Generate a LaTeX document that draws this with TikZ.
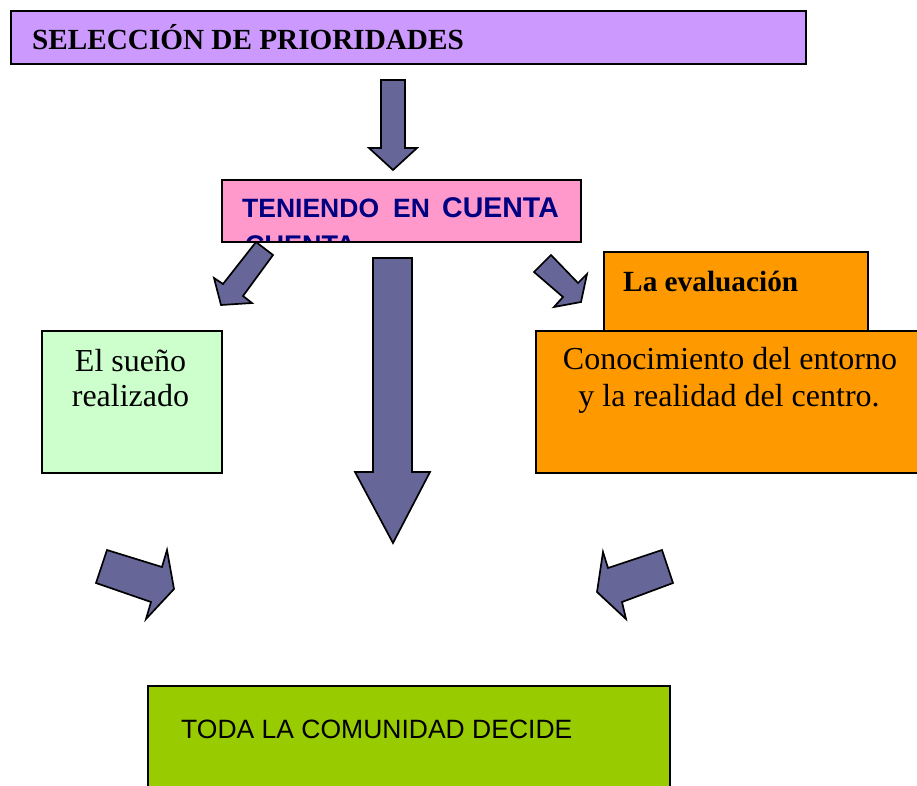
\documentclass[tikz,border=0pt]{standalone}
\usepackage{fontspec}
\setmainfont{Liberation Serif}
\newfontfamily\arialf{Liberation Sans}
\definecolor{purpc}{HTML}{CC99FF}
\definecolor{pinkc}{HTML}{FF99CC}
\definecolor{lgreenc}{HTML}{CCFFCC}
\definecolor{orangec}{HTML}{FF9900}
\definecolor{dgreenc}{HTML}{99CC00}
\definecolor{arrowc}{HTML}{666699}
\definecolor{navyc}{HTML}{000080}
\begin{document}
\begin{tikzpicture}[x=1pt,y=-1pt,
  box/.style={draw=black, line width=1.7pt, inner sep=0pt, anchor=north west},
  blockarrow/.style={draw=black, line width=1.7pt, fill=arrowc, line join=miter},
  lbl/.style={inner sep=0pt, anchor=base west},
  clbl/.style={inner sep=0pt, anchor=base}]
\useasboundingbox (0,0) rectangle (917,785);
\clip (0,0) rectangle (917,785);
% boxes
\node[box, fill=purpc, minimum width=795pt, minimum height=53pt] (sel) at (10,10) {};
\node[lbl, font=\bfseries\fontsize{29.2}{35}\selectfont] (selt) at (32,49) {SELECCIÓN DE PRIORIDADES};

\node[box, fill=pinkc, minimum width=359pt, minimum height=62pt] (ten) at (221,179) {};
\begin{scope}
  \clip (222,180) rectangle (579,240);
  \node[lbl, text=navyc, font=\arialf\bfseries\fontsize{27}{31}\selectfont] (ten4) at (245,254) {CUENTA};
\end{scope}
\node[lbl, text=navyc, font=\arialf\bfseries\fontsize{26.5}{31}\selectfont] (ten1) at (242,217) {TENIENDO};
\node[lbl, text=navyc, font=\arialf\bfseries\fontsize{26.5}{31}\selectfont] (ten2) at (393,217) {EN};
\node[lbl, text=navyc, font=\arialf\bfseries\fontsize{28.5}{31}\selectfont] (ten3) at (442,217) {CUENTA};

\node[box, fill=lgreenc, minimum width=180pt, minimum height=142pt] (sue) at (41,330) {};
\node[clbl, font=\fontsize{32}{36}\selectfont] (sue1) at (130.5,371.5) {El sueño};
\node[clbl, font=\fontsize{32}{36}\selectfont] (sue2) at (130.5,406.5) {realizado};

\node[box, fill=orangec, minimum width=264pt, minimum height=79pt] (eva) at (603,251) {};
\node[lbl, font=\bfseries\fontsize{29.3}{35}\selectfont] (evat) at (623,291) {La evaluación};

\node[box, fill=orangec, minimum width=385pt, minimum height=142pt] (con) at (535,330) {};
\node[clbl, font=\fontsize{32}{36}\selectfont] (con1) at (730,369) {Conocimiento del entorno};
\node[clbl, font=\fontsize{32}{36}\selectfont] (con2) at (729,406) {y la realidad del centro.};

\node[box, fill=dgreenc, minimum width=522pt, minimum height=130pt] (tod) at (147,685) {};
\node[lbl, font=\arialf\fontsize{26.5}{31}\selectfont] (todt) at (181,738) {TODA LA COMUNIDAD DECIDE};

% block arrows
\draw[blockarrow] (381,80)--(405,80)--(405,148)--(417,148)--(393,170)--(369,148)--(381,148)--cycle;
\draw[blockarrow] (256,242)--(273,255)--(243,296)--(252,303)--(221,305)--(214,278)--(223,284)--cycle;
\draw[blockarrow] (551,255)--(578,283)--(587,274)--(581,302)--(554,307)--(563,297)--(534,272)--cycle;
\draw[blockarrow] (373,258)--(412,258)--(412,472)--(430,472)--(393,543)--(355,472)--(373,472)--cycle;
\draw[blockarrow] (107,550)--(162,567)--(167,550)--(174,589)--(146,619)--(151,602)--(96,583)--cycle;
\draw[blockarrow] (662,550)--(673,583)--(622,602)--(626,619)--(597,592)--(603,552)--(608,568)--cycle;
\end{tikzpicture}
\end{document}
